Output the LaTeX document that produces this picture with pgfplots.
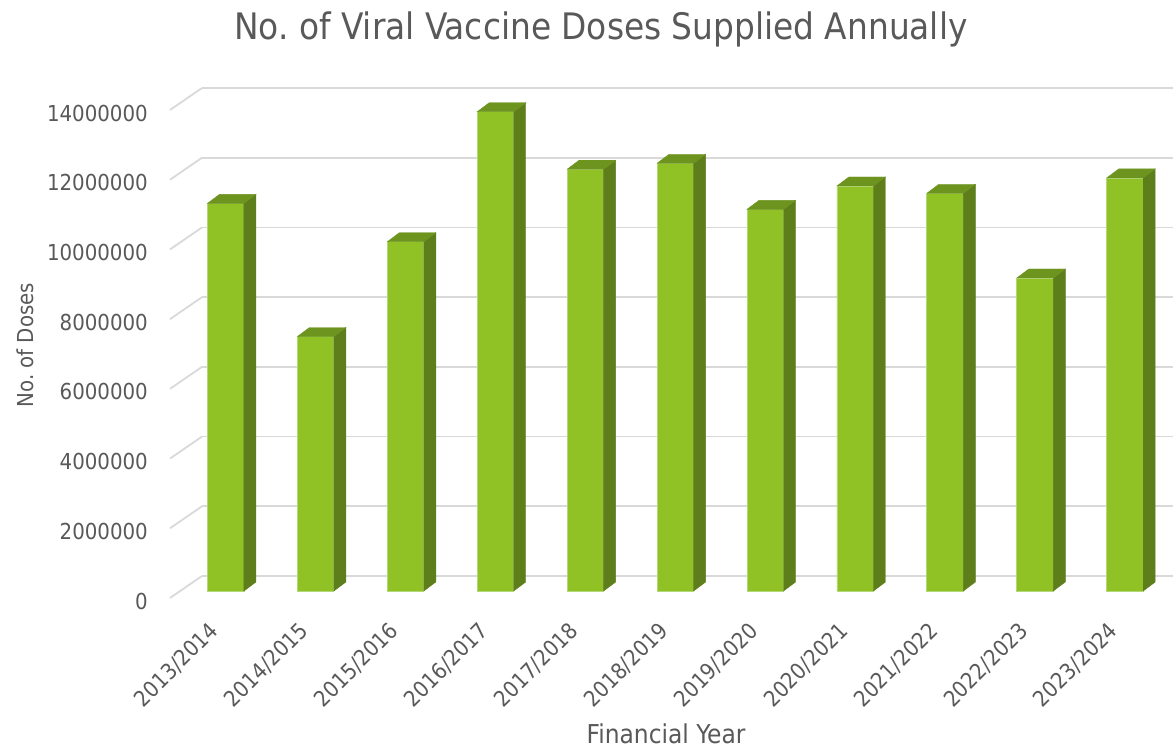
\documentclass[border=0pt]{standalone}
\usepackage{pgfplots}
\pgfplotsset{compat=1.18}
\usepackage{pgfplotstable}
\usepackage{fontspec}
\setmainfont{DejaVu Sans Condensed}
\definecolor{txt}{HTML}{595959}
\definecolor{gridc}{HTML}{D9D9D9}
\definecolor{front}{HTML}{90C226}
\definecolor{side}{HTML}{5E7D1B}
\definecolor{topc}{HTML}{6E9420}
\definecolor{edge}{HTML}{B4D77A}

\pgfplotstableread{
idx doses
0 11120000
1 7300000
2 10020000
3 13750000
4 12100000
5 12270000
6 10950000
7 11620000
8 11410000
9 8980000
10 11850000
}\doses

\pgfdeclareplotmark{none3d}{}

\pgfplotsset{
  common/.style={
    scale only axis, width=971pt, height=488pt,
    xmin=-0.2635, xmax=10.534, ymin=0, ymax=14000000,
    axis line style={draw=none}, tick style={draw=none},
    major tick length=0pt, scaled y ticks=false,
    font=\fontsize{22}{26}\selectfont,
  }
}

\begin{document}
\begin{tikzpicture}[x=1pt,y=1pt]
\useasboundingbox (0,0) rectangle (1173,752);
\begin{axis}[common, at={(202pt,176pt)}, anchor=south west,
  ymajorgrids, grid style={gridc, line width=1.8pt},
  ytick={0,2000000,4000000,6000000,8000000,10000000,12000000,14000000},
  yticklabels={0,2000000,4000000,6000000,8000000,10000000,12000000,14000000},
  xtick={0,1,2,3,4,5,6,7,8,9,10},
  xticklabels={2013/2014,2014/2015,2015/2016,2016/2017,2017/2018,2018/2019,2019/2020,2020/2021,2021/2022,2022/2023,2023/2024},
  yticklabel style={anchor=east, inner sep=0pt, xshift=-54pt, yshift=-25pt, text=txt},
  xticklabel style={xshift=-11pt, yshift=-51pt, rotate=45, anchor=east, inner sep=0pt, text=txt},
  title={No.\ of Viral Vaccine Doses Supplied Annually},
  title style={at={(0.411,1.108)}, anchor=center, font=\fontsize{36.5}{42}\selectfont, text=txt},
  xlabel={Financial Year},
  xlabel style={at={(0.478,-0.323)}, anchor=center, inner sep=0pt, font=\fontsize{26}{30}\selectfont, text=txt},
  ylabel={No.\ of Doses},
  ylabel style={at={(-0.1823,0.473)}, anchor=center, text=txt},
  clip=false,
]
\pgfplotsinvokeforeach{0,0.1428571,0.2857143,0.4285714,0.5714286,0.7142857,0.8571429,1}{
  \draw[gridc, line width=1.8pt] (rel axis cs:0,#1) -- ++(-32pt,-22pt);
}
\end{axis}
\begin{axis}[common, at={(202pt,161pt)}, anchor=south west, ticks=none, clip=false]
\addplot[ybar, bar width=36.5pt, bar shift=0pt, fill=front, draw=edge, line width=0.8pt]
  table[x=idx,y=doses]{\doses};
\addplot[scatter, only marks, mark=none3d,
  visualization depends on={rawy \as \rawy},
  scatter/@pre marker code/.code={%
    \begingroup
    \pgfkeys{/pgf/fpu=true,/pgf/fpu/output format=fixed}%
    \pgfmathparse{\rawy*0.0000348571}%
    \xdef\barh{\pgfmathresult}%
    \endgroup
    \fill[side] (18.25pt,0pt) -- (30.25pt,9pt) -- ({30.25pt},{9pt-\barh pt}) -- ({18.25pt},{-\barh pt}) -- cycle;
    \fill[topc] (-18.25pt,0pt) -- (18.25pt,0pt) -- (30.25pt,9pt) -- (-6.25pt,9pt) -- cycle;
  },
  scatter/@post marker code/.code={},
] table[x=idx,y=doses]{\doses};
\end{axis}
\end{tikzpicture}
\end{document}
